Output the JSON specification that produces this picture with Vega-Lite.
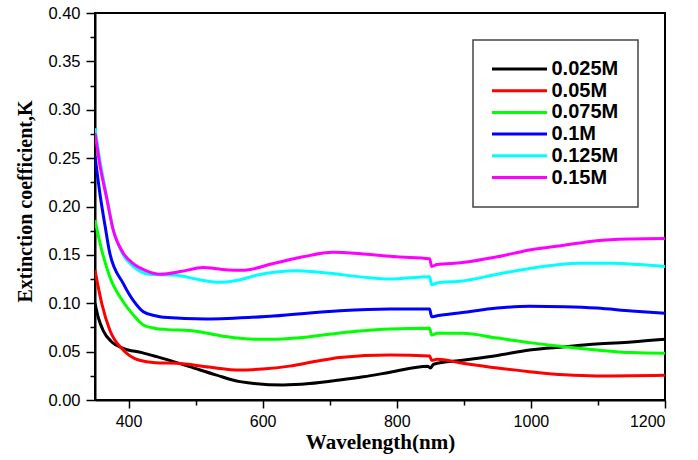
{
  "$schema": "https://vega.github.io/schema/vega-lite/v6.json",
  "width": 570,
  "height": 387,
  "autosize": "none",
  "padding": {"left": 95, "top": 13, "right": 33, "bottom": 60},
  "background": "white",
  "config": {
    "view": {"stroke": "black", "strokeWidth": 2},
    "axis": {"grid": false, "domainColor": "black", "domainWidth": 2, "tickColor": "black", "tickWidth": 1.5, "labelFont": "Liberation Sans", "labelColor": "black", "titleFont": "Liberation Serif", "titleFontWeight": "bold", "titleColor": "black"}
  },
  "data": {"values": [
    {"w":350,"k":0.100,"s":"0.025M"},{"w":355,"k":0.085,"s":"0.025M"},{"w":362,"k":0.072,"s":"0.025M"},{"w":375,"k":0.060,"s":"0.025M"},{"w":392,"k":0.0534,"s":"0.025M"},{"w":420,"k":0.049,"s":"0.025M"},{"w":442,"k":0.0448,"s":"0.025M"},{"w":491,"k":0.0345,"s":"0.025M"},{"w":530,"k":0.026,"s":"0.025M"},{"w":566,"k":0.019,"s":"0.025M"},{"w":631,"k":0.0155,"s":"0.025M"},{"w":670,"k":0.017,"s":"0.025M"},{"w":715,"k":0.0207,"s":"0.025M"},{"w":750,"k":0.024,"s":"0.025M"},{"w":790,"k":0.0286,"s":"0.025M"},{"w":846,"k":0.035,"s":"0.025M"},{"w":850,"k":0.033,"s":"0.025M"},{"w":855,"k":0.037,"s":"0.025M"},{"w":898,"k":0.041,"s":"0.025M"},{"w":950,"k":0.046,"s":"0.025M"},{"w":998,"k":0.0517,"s":"0.025M"},{"w":1050,"k":0.055,"s":"0.025M"},{"w":1098,"k":0.0579,"s":"0.025M"},{"w":1150,"k":0.060,"s":"0.025M"},{"w":1200,"k":0.0627,"s":"0.025M"},

    {"w":350,"k":0.134,"s":"0.05M"},{"w":360,"k":0.100,"s":"0.05M"},{"w":372,"k":0.0723,"s":"0.05M"},{"w":392,"k":0.0517,"s":"0.05M"},{"w":415,"k":0.0413,"s":"0.05M"},{"w":440,"k":0.0385,"s":"0.05M"},{"w":472,"k":0.038,"s":"0.05M"},{"w":520,"k":0.034,"s":"0.05M"},{"w":566,"k":0.031,"s":"0.05M"},{"w":600,"k":0.032,"s":"0.05M"},{"w":640,"k":0.035,"s":"0.05M"},{"w":680,"k":0.040,"s":"0.05M"},{"w":715,"k":0.044,"s":"0.05M"},{"w":790,"k":0.0465,"s":"0.05M"},{"w":849,"k":0.0455,"s":"0.05M"},{"w":852,"k":0.041,"s":"0.05M"},{"w":860,"k":0.042,"s":"0.05M"},{"w":898,"k":0.038,"s":"0.05M"},{"w":950,"k":0.033,"s":"0.05M"},{"w":998,"k":0.0293,"s":"0.05M"},{"w":1050,"k":0.026,"s":"0.05M"},{"w":1098,"k":0.0248,"s":"0.05M"},{"w":1150,"k":0.025,"s":"0.05M"},{"w":1200,"k":0.0255,"s":"0.05M"},

    {"w":350,"k":0.186,"s":"0.075M"},{"w":360,"k":0.155,"s":"0.075M"},{"w":372,"k":0.1275,"s":"0.075M"},{"w":392,"k":0.1016,"s":"0.075M"},{"w":407,"k":0.088,"s":"0.075M"},{"w":422,"k":0.0775,"s":"0.075M"},{"w":440,"k":0.074,"s":"0.075M"},{"w":455,"k":0.073,"s":"0.075M"},{"w":492,"k":0.0719,"s":"0.075M"},{"w":541,"k":0.066,"s":"0.075M"},{"w":580,"k":0.063,"s":"0.075M"},{"w":616,"k":0.0627,"s":"0.075M"},{"w":650,"k":0.064,"s":"0.075M"},{"w":690,"k":0.0672,"s":"0.075M"},{"w":740,"k":0.071,"s":"0.075M"},{"w":790,"k":0.0734,"s":"0.075M"},{"w":849,"k":0.0741,"s":"0.075M"},{"w":852,"k":0.067,"s":"0.075M"},{"w":860,"k":0.069,"s":"0.075M"},{"w":898,"k":0.0689,"s":"0.075M"},{"w":950,"k":0.064,"s":"0.075M"},{"w":998,"k":0.0593,"s":"0.075M"},{"w":1050,"k":0.055,"s":"0.075M"},{"w":1098,"k":0.0517,"s":"0.075M"},{"w":1150,"k":0.049,"s":"0.075M"},{"w":1200,"k":0.0483,"s":"0.075M"},

    {"w":350,"k":0.252,"s":"0.1M"},{"w":358,"k":0.21,"s":"0.1M"},{"w":365,"k":0.18,"s":"0.1M"},{"w":372,"k":0.152,"s":"0.1M"},{"w":392,"k":0.1206,"s":"0.1M"},{"w":407,"k":0.103,"s":"0.1M"},{"w":422,"k":0.0913,"s":"0.1M"},{"w":440,"k":0.087,"s":"0.1M"},{"w":452,"k":0.0855,"s":"0.1M"},{"w":516,"k":0.0837,"s":"0.1M"},{"w":616,"k":0.0868,"s":"0.1M"},{"w":715,"k":0.0923,"s":"0.1M"},{"w":790,"k":0.094,"s":"0.1M"},{"w":849,"k":0.094,"s":"0.1M"},{"w":852,"k":0.086,"s":"0.1M"},{"w":860,"k":0.087,"s":"0.1M"},{"w":898,"k":0.0904,"s":"0.1M"},{"w":950,"k":0.095,"s":"0.1M"},{"w":998,"k":0.097,"s":"0.1M"},{"w":1050,"k":0.0965,"s":"0.1M"},{"w":1098,"k":0.0951,"s":"0.1M"},{"w":1150,"k":0.092,"s":"0.1M"},{"w":1200,"k":0.0896,"s":"0.1M"},

    {"w":350,"k":0.281,"s":"0.125M"},{"w":358,"k":0.245,"s":"0.125M"},{"w":367,"k":0.212,"s":"0.125M"},{"w":377,"k":0.177,"s":"0.125M"},{"w":392,"k":0.150,"s":"0.125M"},{"w":407,"k":0.138,"s":"0.125M"},{"w":430,"k":0.130,"s":"0.125M"},{"w":472,"k":0.129,"s":"0.125M"},{"w":500,"k":0.125,"s":"0.125M"},{"w":536,"k":0.1216,"s":"0.125M"},{"w":565,"k":0.124,"s":"0.125M"},{"w":591,"k":0.129,"s":"0.125M"},{"w":651,"k":0.1337,"s":"0.125M"},{"w":700,"k":0.131,"s":"0.125M"},{"w":750,"k":0.127,"s":"0.125M"},{"w":790,"k":0.125,"s":"0.125M"},{"w":849,"k":0.1275,"s":"0.125M"},{"w":852,"k":0.119,"s":"0.125M"},{"w":860,"k":0.121,"s":"0.125M"},{"w":898,"k":0.123,"s":"0.125M"},{"w":950,"k":0.130,"s":"0.125M"},{"w":998,"k":0.136,"s":"0.125M"},{"w":1073,"k":0.1413,"s":"0.125M"},{"w":1122,"k":0.1413,"s":"0.125M"},{"w":1160,"k":0.140,"s":"0.125M"},{"w":1200,"k":0.138,"s":"0.125M"},

    {"w":350,"k":0.276,"s":"0.15M"},{"w":358,"k":0.24,"s":"0.15M"},{"w":367,"k":0.21,"s":"0.15M"},{"w":377,"k":0.176,"s":"0.15M"},{"w":392,"k":0.152,"s":"0.15M"},{"w":407,"k":0.141,"s":"0.15M"},{"w":425,"k":0.134,"s":"0.15M"},{"w":447,"k":0.130,"s":"0.15M"},{"w":480,"k":0.133,"s":"0.15M"},{"w":511,"k":0.137,"s":"0.15M"},{"w":540,"k":0.135,"s":"0.15M"},{"w":570,"k":0.134,"s":"0.15M"},{"w":616,"k":0.141,"s":"0.15M"},{"w":660,"k":0.148,"s":"0.15M"},{"w":705,"k":0.1526,"s":"0.15M"},{"w":750,"k":0.151,"s":"0.15M"},{"w":800,"k":0.148,"s":"0.15M"},{"w":849,"k":0.146,"s":"0.15M"},{"w":852,"k":0.138,"s":"0.15M"},{"w":860,"k":0.140,"s":"0.15M"},{"w":898,"k":0.142,"s":"0.15M"},{"w":950,"k":0.148,"s":"0.15M"},{"w":998,"k":0.155,"s":"0.15M"},{"w":1050,"k":0.160,"s":"0.15M"},{"w":1098,"k":0.1647,"s":"0.15M"},{"w":1150,"k":0.1665,"s":"0.15M"},{"w":1200,"k":0.167,"s":"0.15M"}
  ]},
  "mark": {"type": "line", "strokeWidth": 3, "interpolate": "monotone", "clip": true},
  "encoding": {
    "x": {"field": "w", "type": "quantitative", "scale": {"domain": [350, 1200], "nice": false, "zero": false},
      "axis": {"values": [400, 500, 600, 700, 800, 900, 1000, 1100, 1200],
        "labelExpr": "datum.value % 200 === 0 ? format(datum.value, 'd') : ''",
        "tickSize": {"condition": {"test": "datum.value % 200 === 0", "value": 8}, "value": 5},
        "labelFontSize": 16, "labelPadding": 5, "title": "Wavelength(nm)", "titleFontSize": 21, "titleY": 42, "titleBaseline": "middle"}},
    "y": {"field": "k", "type": "quantitative", "scale": {"domain": [0, 0.4], "nice": false},
      "axis": {"values": [0, 0.025, 0.05, 0.075, 0.1, 0.125, 0.15, 0.175, 0.2, 0.225, 0.25, 0.275, 0.3, 0.325, 0.35, 0.375, 0.4],
        "labelExpr": "round(datum.value * 1000) % 50 === 0 ? format(datum.value, '.2f') : ''",
        "tickSize": {"condition": {"test": "round(datum.value * 1000) % 50 === 0", "value": 9}, "value": 5},
        "labelFontSize": 16.5, "labelPadding": 6, "title": "Extinction coefficient,K", "titleFontSize": 20, "titleX": -70, "titleY": 188, "titleBaseline": "middle", "titleAngle": -90}},
    "color": {"field": "s", "type": "nominal", "sort": ["0.025M", "0.05M", "0.075M", "0.1M", "0.125M", "0.15M"],
      "scale": {"domain": ["0.025M", "0.05M", "0.075M", "0.1M", "0.125M", "0.15M"], "range": ["#000000", "#ff0000", "#00ff00", "#0000ff", "#00ffff", "#ff00ff"]},
      "legend": {"title": " ", "titleOrient": "bottom", "titleFontSize": 2, "titlePadding": -3, "orient": "none", "legendX": 378, "legendY": 27, "symbolType": "M-5.5,0H5.5", "symbolStrokeWidth": 3, "symbolSize": 100, "symbolOffset": 17.5, "labelFont": "Liberation Sans", "labelFontWeight": "bold", "labelFontSize": 20, "labelColor": "black", "labelOffset": 22, "rowPadding": 1.7, "padding": 19, "strokeColor": "#444444", "fillColor": "white",
        "encode": {"legend": {"update": {"strokeWidth": {"value": 1.5}}}}}}
  }
}
